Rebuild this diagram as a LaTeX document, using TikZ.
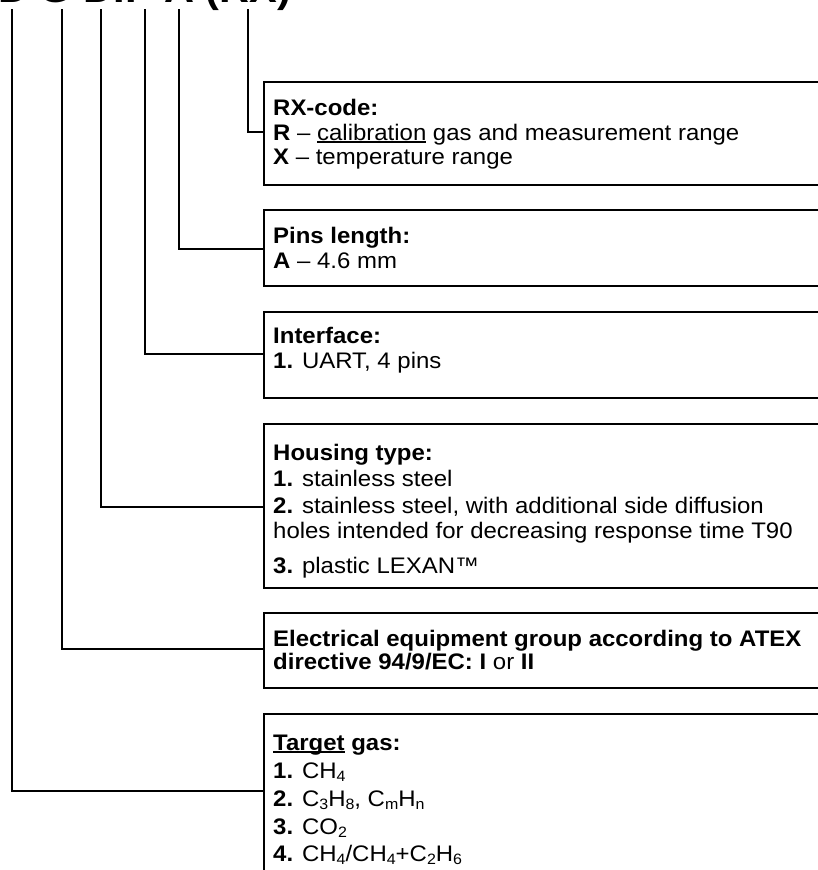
\documentclass[tikz,border=0pt]{standalone}
\usepackage{fontspec}
\setmainfont{Liberation Sans}[FakeStretch=1.065]
\newcommand\myul[1]{\setbox0\hbox{#1}\rlap{\rule[-2.6pt]{\wd0}{1.3pt}}\box0\relax}
\newcommand\sbs[1]{\raisebox{-3.2pt}{\fontsize{15}{15}\selectfont #1}}
\begin{document}
\begin{tikzpicture}[x=1pt,y=-1pt,
  conn/.style={line width=2pt},
  box/.style={draw, line width=2pt, rectangle, inner sep=0pt, anchor=north west, minimum width=620pt},
  txt/.style={anchor=base west, inner sep=0pt, font=\fontsize{22.5}{25}\selectfont}]
\useasboundingbox (0,0) rectangle (818,870);
\begin{scope}
\clip (0,0) rectangle (818,870);
\node[anchor=base west, inner sep=0pt, font=\fontsize{39}{39}\selectfont\bfseries] (title) at (-2,2.5) {D G DIP A (RX)};
% boxes
\node[box, minimum height=103pt] (rx) at (263,81) {};
\node[box, minimum height=76pt] (pins) at (263,209) {};
\node[box, minimum height=86pt] (intf) at (263,311) {};
\node[box, minimum height=164pt] (hous) at (263,423) {};
\node[box, minimum height=75pt] (elec) at (263,612) {};
\node[box, minimum height=200pt] (targ) at (263,713) {};
% connector ends
\coordinate (v1) at (12,9);
\coordinate (v2) at (62,9);
\coordinate (v3) at (101,9);
\coordinate (v4) at (145,9);
\coordinate (v5) at (179,9);
\coordinate (v6) at (248,9);
\coordinate (e1) at (263,791);
\coordinate (e2) at (263,649);
\coordinate (e3) at (263,507);
\coordinate (e4) at (263,354);
\coordinate (e5) at (263,249);
\coordinate (e6) at (263,132);
\draw[conn] (v1) |- (e1);
\draw[conn] (v2) |- (e2);
\draw[conn] (v3) |- (e3);
\draw[conn] (v4) |- (e4);
\draw[conn] (v5) |- (e5);
\draw[conn] (v6) |- (e6);
% texts
\node[txt] (rxa) at (273,115) {\textbf{RX-code:}};
\node[txt] (rxb) at (273,140) {\textbf{R} – \myul{calibration} gas and measurement range};
\node[txt] (rxc) at (273,164) {\textbf{X} – temperature range};
\node[txt] (pa) at (273,243) {\textbf{Pins length:}};
\node[txt] (pb) at (273,268) {\textbf{A} – 4.6 mm};
\node[txt] (ia) at (273,343) {\textbf{Interface:}};
\node[txt] (ib) at (273,368) {\textbf{1.} UART, 4 pins};
\node[txt] (ha) at (273,460) {\textbf{Housing type:}};
\node[txt] (hb) at (273,486) {\textbf{1.} stainless steel};
\node[txt] (hc) at (273,513) {\textbf{2.} stainless steel, with additional side diffusion};
\node[txt] (hd) at (273,538) {holes intended for decreasing response time T90};
\node[txt] (he) at (273,573) {\textbf{3.} plastic LEXAN™};
\node[txt] (ea) at (273,646) {\textbf{Electrical equipment group according to ATEX}};
\node[txt] (eb) at (273,669) {\textbf{directive 94/9/EC: I} or \textbf{II}};
\node[txt] (ta) at (273,750) {\textbf{\myul{Target} gas:}};
\node[txt] (tb) at (273,778) {\textbf{1.} CH\sbs{4}};
\node[txt] (tc) at (273,806) {\textbf{2.} C\sbs{3}H\sbs{8}, C\sbs{m}H\sbs{n}};
\node[txt] (td) at (273,834) {\textbf{3.} CO\sbs{2}};
\node[txt] (te) at (273,861) {\textbf{4.} CH\sbs{4}/CH\sbs{4}+C\sbs{2}H\sbs{6}};
\end{scope}
\end{tikzpicture}
\end{document}
